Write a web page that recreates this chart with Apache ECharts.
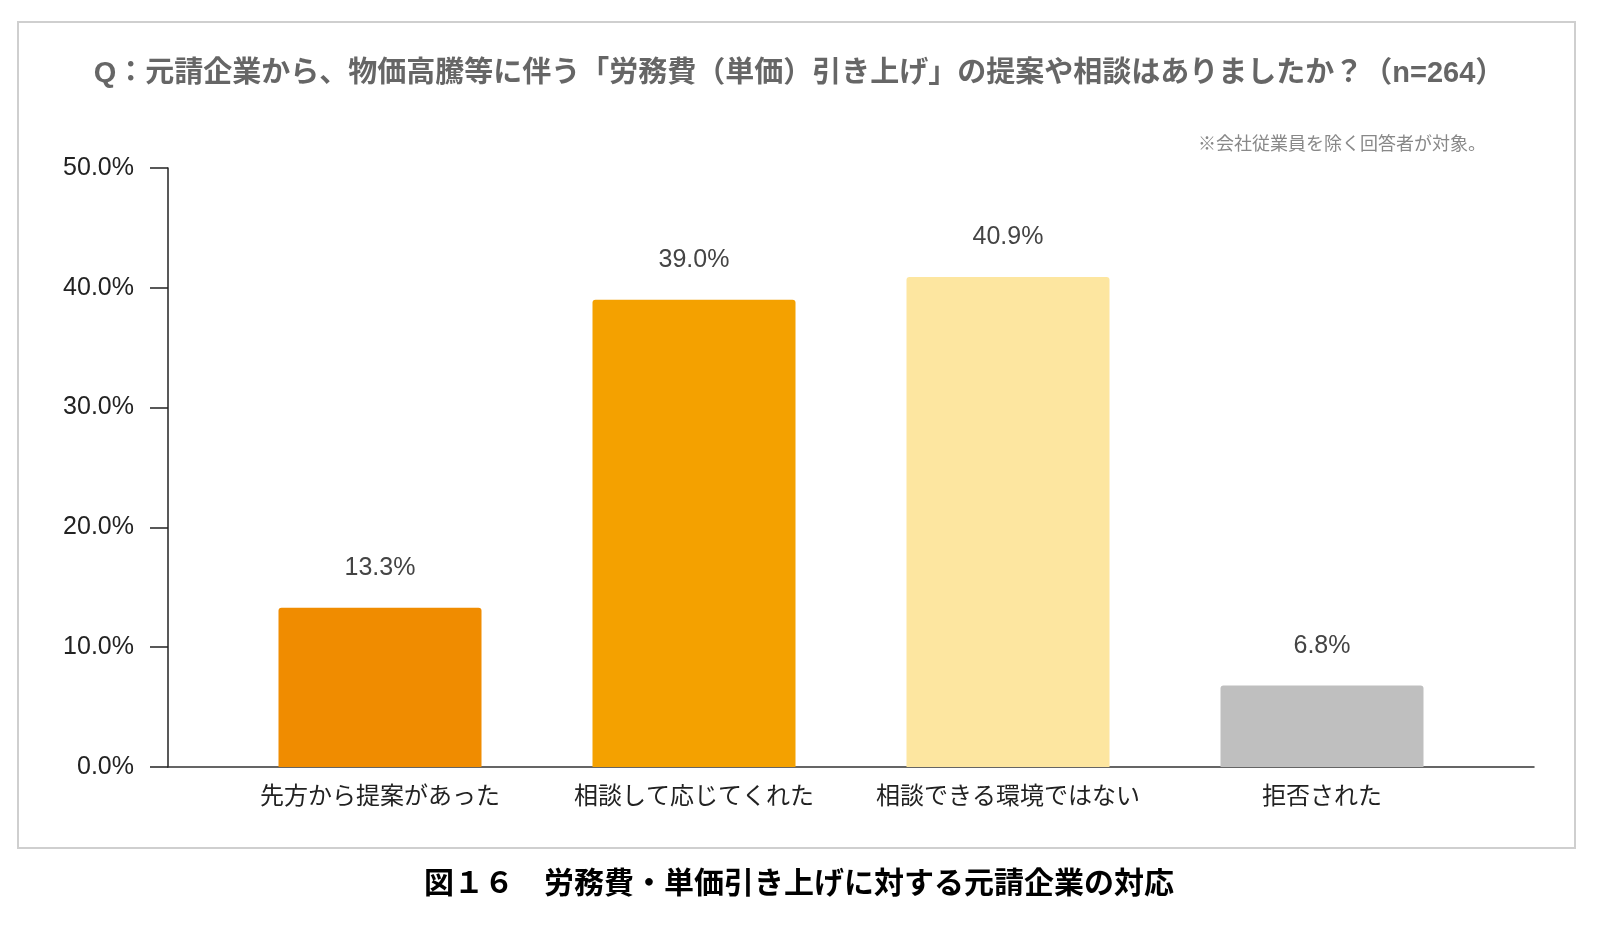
<!DOCTYPE html>
<html>
<head>
<meta charset="utf-8">
<script src="https://cdn.jsdelivr.net/npm/echarts@6/dist/echarts.min.js"></script>
<style>
html, body { margin: 0; padding: 0; background: #fff; }
#chart { width: 1598px; height: 929px; }
</style>
</head>
<body>
<div id="chart"></div>
<script>
var categories = ['先方から提案があった', '相談して応じてくれた', '相談できる環境ではない', '拒否された'];
var values = [13.3, 39.0, 40.9, 6.8];
var barColors = ['#f08c00', '#f4a100', '#fde6a0', '#bfbfbf'];
var titleText = 'Q：元請企業から、物価高騰等に伴う「労務費（単価）引き上げ」の提案や相談はありましたか？（n=264）';
var noteText = '※会社従業員を除く回答者が対象。';
var captionText = '図１６　労務費・単価引き上げに対する元請企業の対応';

var font = "'Liberation Sans', 'Noto Sans CJK JP', sans-serif";
var ec = echarts.init(document.getElementById('chart'));

var barData = [];
for (var i = 0; i < values.length; i++) {
	barData.push({
		value: values[i],
		itemStyle: { color: barColors[i], borderRadius: [3, 3, 0, 0] }
	});
}

ec.setOption({
	animation: false,
	backgroundColor: '#fff',
	title: [{
		text: titleText,
		left: 'center',
		top: 54,
		textStyle: { color: '#666', fontSize: 29, fontWeight: 'bold', fontFamily: font }
	}, {
		text: noteText,
		right: 107,
		top: 131,
		textStyle: { color: '#888', fontSize: 18, fontWeight: 'normal', fontFamily: font }
	}, {
		text: captionText,
		left: 'center',
		top: 865,
		textStyle: { color: '#000', fontSize: 30, fontWeight: 'bold', fontFamily: font }
	}],
	graphic: [{
		type: 'rect',
		shape: { x: 18, y: 22, width: 1557, height: 826 },
		style: { fill: 'none', stroke: '#cfcfcf', lineWidth: 2 },
		silent: true
	}],
	grid: [{
		left: 168, right: 64, top: 168, bottom: 162
	}, {
		left: 223, right: 119, top: 168, bottom: 162
	}],
	xAxis: [{
		gridIndex: 0,
		type: 'value',
		min: 0,
		max: 1,
		axisLine: { show: true, onZero: false, lineStyle: { color: '#333', width: 1.5 } },
		axisTick: { show: false },
		axisLabel: { show: false },
		splitLine: { show: false }
	}, {
		gridIndex: 1,
		type: 'category',
		data: categories,
		axisLine: { show: false },
		axisTick: { show: false },
		axisLabel: { interval: 0, color: '#222', fontSize: 24, margin: 18, fontFamily: font }
	}],
	yAxis: [{
		gridIndex: 0,
		type: 'value',
		min: 0,
		max: 50,
		interval: 10,
		axisLine: { show: true, lineStyle: { color: '#222', width: 1.5 } },
		axisTick: { show: true, length: 18, lineStyle: { color: '#222', width: 1.5 } },
		axisLabel: {
			color: '#222',
			fontSize: 25,
			margin: 34,
			fontFamily: font,
			formatter: function(v) { return v.toFixed(1) + '%'; }
		},
		splitLine: { show: false }
	}, {
		gridIndex: 1,
		type: 'value',
		min: 0,
		max: 50,
		show: false
	}],
	series: [{
		type: 'bar',
		xAxisIndex: 1,
		yAxisIndex: 1,
		barWidth: 203,
		data: barData,
		label: {
			show: true,
			position: 'top',
			distance: 27,
			color: '#444',
			fontSize: 25,
			fontFamily: font,
			formatter: function(p) { return p.value.toFixed(1) + '%'; }
		}
	}]
});
</script>
</body>
</html>
